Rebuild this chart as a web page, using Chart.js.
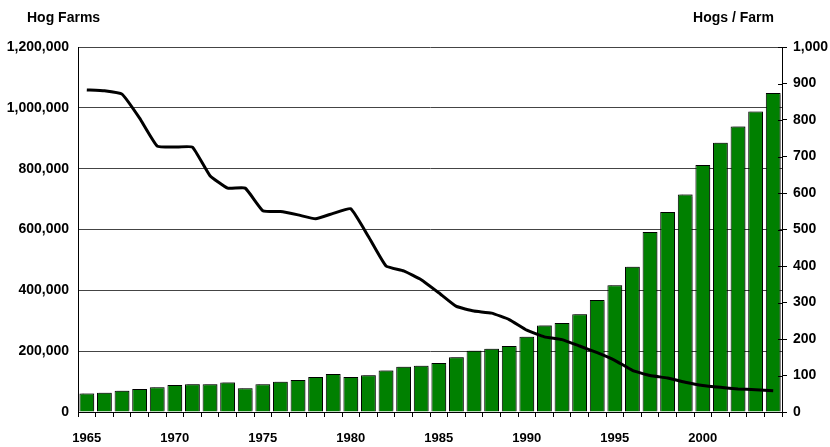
<!DOCTYPE html>
<html>
<head>
<meta charset="utf-8">
<script src="https://cdn.jsdelivr.net/npm/chart.js@4"></script>
<style>
    html, body { margin: 0; padding: 0; background: #fff; }
    #wrap { width: 830px; height: 447px; position: relative; }
</style>
</head>
<body>
<div id="wrap"><canvas id="hogChart"></canvas></div>
<script>
// Years on the x axis
const years = [];
for (let y = 1965; y <= 2004; y++) years.push(String(y));

// Hog farms (line, left axis)
const hogFarms = [
    1059000, 1056000, 1045000, 966000, 874000, 871000, 871000, 777000, 736000, 736000,
    662000, 659000, 648000, 635000, 653000, 668000, 577000, 480000, 464000, 435000,
    392000, 347000, 332000, 325000, 304000, 269000, 247000, 238000, 217000, 195000,
    170000, 137000, 120000, 112000, 98000, 87000, 81000, 76000, 73000, 70000
];

// Hogs per farm (bars, right axis)
const hogsPerFarm = [
    51, 53, 58, 63, 68, 74, 76, 76, 81, 65,
    76, 83, 88, 96, 104, 96, 101, 114, 124, 127,
    134, 150, 168, 173, 181, 206, 237, 244, 268, 307,
    347, 398, 493, 548, 596, 677, 738, 782, 823, 874
];

const labelFont = { family: "'Liberation Sans', Arial, sans-serif", size: 14, weight: 'bold' };

// Titles above each axis
const axisTitles = {
    id: 'axisTitles',
    afterDraw(chart) {
        const ctx = chart.ctx;
        ctx.save();
        ctx.fillStyle = '#000';
        ctx.font = "bold 14px 'Liberation Sans', Arial, sans-serif";
        ctx.textBaseline = 'middle';
        ctx.textAlign = 'left';
        ctx.fillText('Hog Farms', 27, 18);
        ctx.textAlign = 'right';
        ctx.fillText('Hogs / Farm', 774, 18);
        ctx.restore();
    }
};

// Soft shadow behind the bars
const barShadow = {
    id: 'barShadow',
    beforeDatasetDraw(chart, args) {
        if (args.index !== 1) return;
        const ctx = chart.ctx;
        ctx.save();
        ctx.shadowColor = 'rgba(0, 0, 0, 0.35)';
        ctx.shadowOffsetX = 2;
        ctx.shadowOffsetY = -1;
        ctx.shadowBlur = 1;
    },
    afterDatasetDraw(chart, args) {
        if (args.index !== 1) return;
        chart.ctx.restore();
    }
};

// Right axis tick marks also reach into the plot a little
const innerTicks = {
    id: 'innerTicks',
    afterDraw(chart) {
        const scale = chart.scales.yRight;
        const ctx = chart.ctx;
        ctx.save();
        ctx.strokeStyle = '#000';
        ctx.lineWidth = 1;
        scale.ticks.forEach(function (t) {
            const y = Math.round(scale.getPixelForValue(t.value)) + 0.5;
            ctx.beginPath();
            ctx.moveTo(scale.left - 4, y);
            ctx.lineTo(scale.left, y);
            ctx.stroke();
        });
        ctx.restore();
    }
};

new Chart(document.getElementById('hogChart'), {
    data: {
        labels: years,
        datasets: [
            {
                type: 'line',
                label: 'Hog Farms',
                data: hogFarms,
                yAxisID: 'yLeft',
                borderColor: '#000',
                borderWidth: 3,
                pointRadius: 0,
                tension: 0.12,
                fill: false,
                order: 0
            },
            {
                type: 'bar',
                label: 'Hogs / Farm',
                data: hogsPerFarm,
                yAxisID: 'yRight',
                backgroundColor: '#008000',
                borderColor: '#000',
                borderWidth: 1,
                barPercentage: 0.84,
                categoryPercentage: 1,
                order: 1
            }
        ]
    },
    options: {
        responsive: true,
        maintainAspectRatio: false,
        animation: false,
        layout: { padding: { top: 47, left: 0, right: 0, bottom: 0 } },
        plugins: {
            legend: { display: false },
            tooltip: { enabled: false }
        },
        scales: {
            x: {
                offset: true,
                grid: {
                    display: true,
                    offset: true,
                    drawOnChartArea: false,
                    drawTicks: true,
                    tickLength: 5,
                    color: '#000'
                },
                border: { color: '#000', width: 1 },
                ticks: {
                    autoSkip: false,
                    maxRotation: 0,
                    padding: 14,
                    color: '#000',
                    font: { family: labelFont.family, size: 13, weight: 'bold' },
                    callback: function (value, index) {
                        const y = Number(years[index]);
                        return y % 5 === 0 ? years[index] : '';
                    }
                },
                afterFit: function (scale) { scale.height = 35; }
            },
            yLeft: {
                position: 'left',
                min: 0,
                max: 1200000,
                grid: {
                    color: '#444',
                    lineWidth: 1,
                    drawTicks: false
                },
                border: { color: '#000', width: 1 },
                ticks: {
                    stepSize: 200000,
                    padding: 9,
                    color: '#000',
                    font: labelFont,
                    callback: function (value) {
                        return value.toLocaleString('en-US');
                    }
                },
                afterFit: function (scale) { scale.width = 78; }
            },
            yRight: {
                position: 'right',
                min: 0,
                max: 1000,
                grid: {
                    drawOnChartArea: false,
                    drawTicks: true,
                    tickLength: 5,
                    color: '#000'
                },
                border: { color: '#000', width: 1 },
                ticks: {
                    stepSize: 100,
                    padding: 6,
                    color: '#000',
                    font: labelFont,
                    callback: function (value) {
                        return value.toLocaleString('en-US');
                    }
                },
                afterFit: function (scale) { scale.width = 48; }
            }
        }
    },
    plugins: [axisTitles, barShadow, innerTicks]
});
</script>
</body>
</html>
